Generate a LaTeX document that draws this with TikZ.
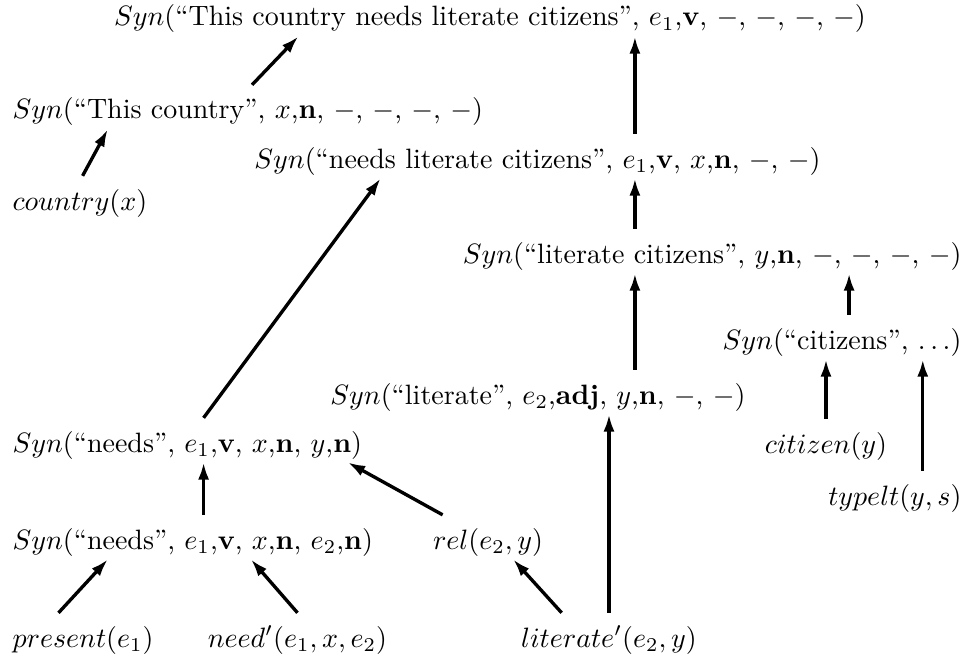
\documentclass[tikz,border=0pt]{standalone}
\usepackage{amsmath}
\usetikzlibrary{arrows.meta,calc}
\tikzset{
  term/.style={inner xsep=0pt,inner ysep=1pt},
  arrow/.style={-{Latex[length=6.2pt,width=4pt]},line width=1.2pt}
}
\begin{document}
\begin{tikzpicture}[x=0.357pt,y=-0.357pt]
\useasboundingbox (0,0) rectangle (971,659);
% derivation nodes, top to bottom
\node[term] (top) at (490,19) {$Syn($``This country needs literate citizens'', $e_1$,\textbf{v}, $-$, $-$, $-$, $-)$};
\node[term,anchor=west] (thiscntry) at (12,112) {$Syn($``This country'', $x$,\textbf{n}, $-$, $-$, $-$, $-)$};
\node[term] (needslit) at (537.5,161) {$Syn($``needs literate citizens'', $e_1$,\textbf{v}, $x$,\textbf{n}, $-$, $-)$};
\node[term,anchor=west] (cntry) at (12,203) {$country(x)$};
\node[term,anchor=east] (litcit) at (962,256) {$Syn($``literate citizens'', $y$,\textbf{n}, $-$, $-$, $-$, $-)$};
\node[term,anchor=east] (cit) at (962,342) {$Syn($``citizens'', $\ldots)$};
\node[term] (lit) at (538,397) {$Syn($``literate'', $e_2$,\textbf{adj}, $y$,\textbf{n}, $-$, $-)$};
\node[term,anchor=west] (needsyn) at (12,445) {$Syn($``needs'', $e_1$,\textbf{v}, $x$,\textbf{n}, $y$,\textbf{n}$)$};
\node[term] (citizen) at (826,446) {$citizen(y)$};
\node[term,anchor=east] (typelt) at (962,498) {$typelt(y,s)$};
\node[term,anchor=west] (needse2) at (12,542) {$Syn($``needs'', $e_1$,\textbf{v}, $x$,\textbf{n}, $e_2$,\textbf{n}$)$};
\node[term] (rel) at (488,542) {$rel(e_2,y)$};
\node[term,anchor=west] (present) at (12,640) {$present(e_1)$};
\node[term] (need) at (297.5,640) {$need'(e_1,x,e_2)$};
\node[term] (literatep) at (609,640) {$literate'(e_2,y)$};
% vertical lines
\coordinate (spine) at ($(lit.north)+(34.6pt,0pt)$);
\coordinate (citx) at ($(cit.north east)+(-40.3pt,0pt)$);
\coordinate (typx) at ($(typelt.north east)+(-14pt,0pt)$);
\coordinate (needx) at ($(needse2.north west)+(68.4pt,0pt)$);
% arrows
\draw[arrow] ($(cntry.north west)+(25.2pt,3.5pt)$) -- ($(thiscntry.south west)+(34.2pt,0pt)$);
\draw[arrow] ($(thiscntry.north west)+(85.7pt,3.5pt)$) -- ($(top.south)+(-68.4pt,0pt)$);
\draw[arrow] ($(spine |- needslit.north)+(0pt,3.5pt)$) -- (spine |- top.south);
\draw[arrow] ($(spine |- litcit.north)+(0pt,3.5pt)$) -- (spine |- needslit.south);
\draw[arrow] ($(spine)+(0pt,3.5pt)$) -- (spine |- litcit.south);
\draw[arrow] ($(citx)+(0pt,3.5pt)$) -- (citx |- litcit.south);
\draw[arrow] ($(citizen.north)+(0pt,3.5pt)$) -- (citizen.north |- cit.south);
\draw[arrow] ($(typx)+(0pt,3.5pt)$) -- (typx |- cit.south);
\draw[arrow] ($(literatep.north)+(0pt,3.5pt)$) -- (literatep.north |- lit.south);
\draw[arrow] ($(literatep.north)+(-16.9pt,3.5pt)$) -- ($(rel.south)+(9pt,0pt)$);
\draw[arrow] ($(rel.north)+(-16.2pt,3.5pt)$) -- ($(needsyn.south west)+(119.9pt,0pt)$);
\draw[arrow] ($(needx)+(0pt,3.5pt)$) -- (needx |- needsyn.south);
\draw[arrow] ($(present.north west)+(16.6pt,3.5pt)$) -- ($(needse2.south west)+(34.2pt,0pt)$);
\draw[arrow] ($(need.north)+(0pt,3.5pt)$) -- ($(needse2.south west)+(85.3pt,0pt)$);
\draw[arrow] ($(needsyn.north west)+(68.4pt,3.5pt)$) -- ($(needslit.south)+(-56pt,0pt)$);
\end{tikzpicture}
\end{document}
